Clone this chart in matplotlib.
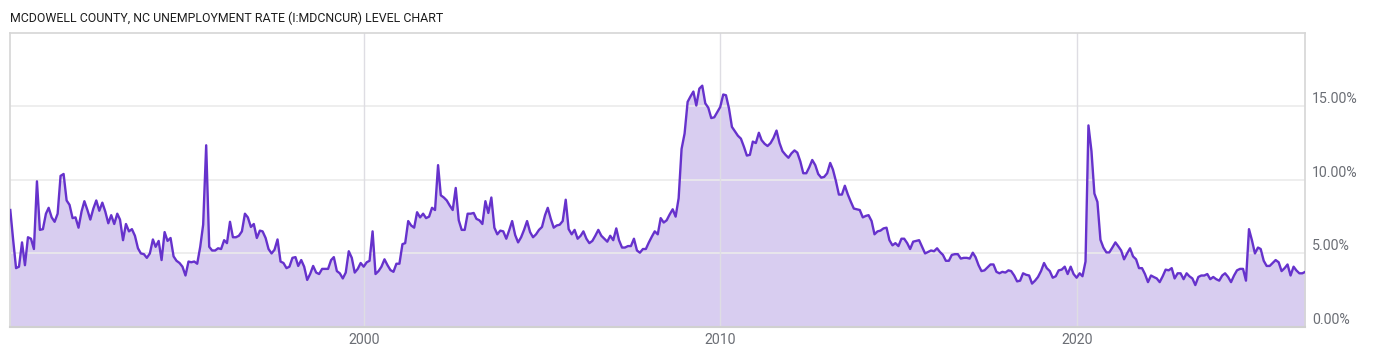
import matplotlib.pyplot as plt
import matplotlib.transforms as mtransforms
import pandas as pd

# Monthly unemployment rate (%), one list per year
y1990 = [7.95, 6.0, 4.0, 4.1, 5.75, 4.2, 6.1, 6.0, 5.3, 9.9, 6.6, 6.65]
y1991 = [7.7, 8.1, 7.45, 7.15, 7.7, 10.27, 10.4, 8.6, 8.3, 7.4, 7.45, 6.75]
y1992 = [7.85, 8.55, 7.95, 7.3, 8.05, 8.6, 7.9, 8.45, 7.85, 7.05, 7.6, 7.0]
y1993 = [7.7, 7.3, 5.9, 7.0, 6.5, 6.65, 6.2, 5.35, 5.0, 4.95, 4.7, 5.0]
y1994 = [5.95, 5.45, 5.85, 4.55, 6.45, 5.85, 6.05, 4.8, 4.5, 4.35, 4.1, 3.5]
y1995 = [4.45, 4.4, 4.45, 4.3, 5.45, 6.95, 12.35, 5.45, 5.2, 5.2, 5.35, 5.3]
y1996 = [5.9, 5.7, 7.15, 6.1, 6.1, 6.2, 6.5, 7.7, 7.45, 6.8, 7.0, 6.05]
y1997 = [6.55, 6.5, 6.05, 5.3, 5.0, 5.25, 5.95, 4.45, 4.35, 4.0, 4.1, 4.7]
y1998 = [4.75, 4.15, 4.55, 4.1, 3.2, 3.6, 4.15, 3.7, 3.6, 3.95, 3.95, 3.95]
y1999 = [4.55, 4.75, 3.8, 3.65, 3.3, 3.7, 5.15, 4.7, 3.7, 3.95, 4.35, 4.1]
y2000 = [4.4, 4.5, 6.5, 3.6, 3.8, 4.1, 4.6, 4.2, 3.87, 3.75, 4.3, 4.3]
y2001 = [5.63, 5.7, 7.2, 6.9, 6.75, 7.8, 7.45, 7.7, 7.4, 7.5, 8.1, 7.95]
y2002 = [11.0, 8.95, 8.8, 8.6, 8.25, 7.95, 9.45, 7.25, 6.6, 6.6, 7.7, 7.7]
y2003 = [7.75, 7.35, 7.25, 7.0, 8.55, 7.75, 8.8, 6.75, 6.3, 6.55, 6.5, 6.0]
y2004 = [6.6, 7.2, 6.25, 5.75, 6.1, 6.6, 7.2, 6.45, 6.1, 6.3, 6.6, 6.8]
y2005 = [7.6, 8.1, 7.35, 6.75, 6.9, 6.95, 7.2, 8.65, 6.65, 6.3, 6.6, 6.0]
y2006 = [6.2, 6.5, 6.0, 5.7, 5.85, 6.2, 6.6, 6.2, 6.0, 5.8, 6.2, 5.9]
y2007 = [6.7, 5.9, 5.4, 5.4, 5.5, 5.5, 6.0, 5.2, 5.05, 5.3, 5.3, 5.75]
y2008 = [6.15, 6.5, 6.3, 7.4, 7.1, 7.25, 7.65, 8.0, 7.5, 8.75, 12.1, 13.15]
y2009 = [15.3, 15.65, 16.0, 15.05, 16.2, 16.4, 15.2, 14.9, 14.2, 14.25, 14.6, 14.95]
y2010 = [15.8, 15.75, 14.85, 13.6, 13.3, 13.0, 12.8, 12.25, 11.65, 11.7, 12.6, 12.5]
y2011 = [13.2, 12.7, 12.45, 12.3, 12.5, 12.85, 13.35, 12.5, 11.95, 11.7, 11.5, 11.8]
y2012 = [12.0, 11.85, 11.25, 10.45, 10.45, 10.85, 11.35, 11.0, 10.4, 10.15, 10.2, 10.45]
y2013 = [11.15, 10.7, 9.9, 9.0, 9.0, 9.6, 9.0, 8.5, 8.05, 8.0, 7.95, 7.45]
y2014 = [7.55, 7.6, 7.2, 6.3, 6.5, 6.55, 6.7, 6.75, 5.9, 5.55, 5.7, 5.5]
y2015 = [6.0, 6.0, 5.7, 5.3, 5.8, 5.85, 5.9, 5.45, 5.0, 5.1, 5.2, 5.15]
y2016 = [5.35, 5.1, 4.9, 4.5, 4.5, 4.9, 4.95, 4.95, 4.65, 4.7, 4.7, 4.65]
y2017 = [5.05, 4.75, 4.2, 3.8, 3.85, 4.05, 4.25, 4.25, 3.75, 3.65, 3.75, 3.7]
y2018 = [3.85, 3.8, 3.5, 3.1, 3.15, 3.65, 3.55, 3.5, 2.95, 3.15, 3.4, 3.8]
y2019 = [4.35, 4.0, 3.8, 3.35, 3.45, 3.85, 3.9, 4.1, 3.6, 4.1, 3.6, 3.35]
y2020 = [3.65, 3.45, 4.45, 13.7, 11.95, 9.07, 8.5, 5.93, 5.4, 5.07, 5.07, 5.4]
y2021 = [5.75, 5.5, 5.2, 4.6, 5.0, 5.35, 4.8, 4.6, 4.0, 4.0, 3.6, 3.05]
y2022 = [3.5, 3.4, 3.3, 3.05, 3.45, 3.9, 3.85, 4.0, 3.3, 3.65, 3.65, 3.25]
y2023 = [3.65, 3.45, 3.3, 2.85, 3.4, 3.5, 3.5, 3.6, 3.25, 3.4, 3.25, 3.15]
y2024 = [3.5, 3.65, 3.4, 3.05, 3.5, 3.85, 3.95, 3.95, 3.15, 6.65, 5.9, 5.0]
y2025 = [5.4, 5.3, 4.5, 4.15, 4.15, 4.35, 4.55, 4.4, 3.8, 4.0, 4.25, 3.5]
y2026 = [4.1, 3.85, 3.65, 3.65, 3.75]

rate = (y1990 + y1991 + y1992 + y1993 + y1994 + y1995 + y1996 + y1997 + y1998
        + y1999 + y2000 + y2001 + y2002 + y2003 + y2004 + y2005 + y2006 + y2007
        + y2008 + y2009 + y2010 + y2011 + y2012 + y2013 + y2014 + y2015 + y2016
        + y2017 + y2018 + y2019 + y2020 + y2021 + y2022 + y2023 + y2024 + y2025
        + y2026)
dates = pd.date_range('1990-01-31', periods=len(rate), freq='ME')

year_ticks = [2000, 2010, 2020]
pct_ticks = [0, 5, 10, 15]

line_color = '#6632cc'
fill_color = '#d8cdf0'
text_gray = '#6b6e75'

plt.rcParams['font.family'] = ['Roboto', 'DejaVu Sans']

fig = plt.figure(figsize=(14, 3.57), dpi=100)
ax = fig.add_axes([0.00736, 0.084, 0.9250, 0.8244])

ax.fill_between(dates, rate, 0, color=fill_color, lw=0, zorder=1)
ax.plot(dates, rate, color=line_color, lw=1.7, zorder=3)

ax.set_xlim(dates[0], dates[-1])
ax.set_ylim(0, 20)

# gridlines
for v in pct_ticks[1:]:
    ax.axhline(v, color='#ebebeb', lw=1.2, zorder=2)
for yr in year_ticks:
    ax.axvline(pd.Timestamp(f'{yr}-01-01'), color='#dedde3', lw=1, zorder=2)

ax.set_xticks([pd.Timestamp(f'{yr}-01-01') for yr in year_ticks])
ax.set_xticklabels([str(yr) for yr in year_ticks])
ax.tick_params(axis='x', length=0, pad=4, labelsize=10.2, colors=text_gray)
ax.set_yticks([])

# right-hand percent labels sitting just above their gridlines
trans = mtransforms.blended_transform_factory(ax.transAxes, ax.transData)
off = mtransforms.ScaledTranslation(7 / 100, 7 / 100, fig.dpi_scale_trans)
for v in pct_ticks:
    ax.text(1.0, v, f'{v:.2f}%', transform=trans + off, ha='left', va='center',
            fontsize=10.2, color=text_gray)

for side in ['left', 'top', 'right']:
    ax.spines[side].set_color('#d6d6d6')
    ax.spines[side].set_linewidth(1.2)
ax.spines['bottom'].set_color('#d0d0d0')
ax.spines['bottom'].set_linewidth(1.5)

fig.text(0.0072, 0.95, 'MCDOWELL COUNTY, NC UNEMPLOYMENT RATE (I:MDCNCUR) LEVEL CHART',
         ha='left', va='center', fontsize=8.9, color='#1e1e1e')

fig.savefig('out.png', dpi=100, facecolor='white')
